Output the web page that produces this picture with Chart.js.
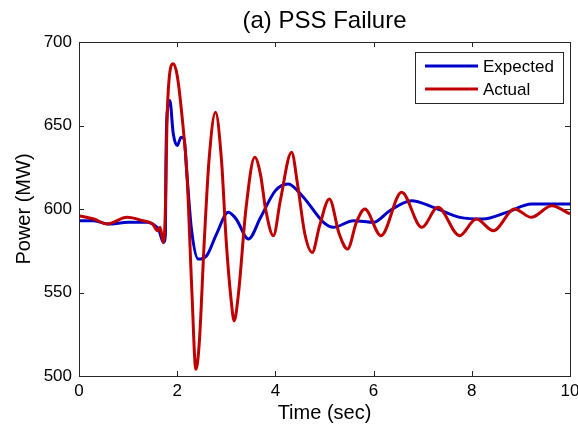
<!DOCTYPE html>
<html>
<head>
<meta charset="utf-8">
<script src="https://cdn.jsdelivr.net/npm/chart.js@4"></script>
<style>
  body { margin: 0; background: #fff; }
  #wrap { width: 578px; height: 425px; }
</style>
</head>
<body>
<div id="wrap"><canvas id="chart" width="578" height="425"></canvas></div>
<script>
// values (time in sec, power in MW)
const expectedT = [0, 0.3, 0.6, 1.0, 1.4, 1.55, 1.62, 1.72, 1.76, 1.77, 1.79, 1.85, 1.92, 2.0, 2.08, 2.14, 2.2, 2.29, 2.43, 2.6, 2.8, 3.04, 3.2, 3.45, 3.7, 4.0, 4.26, 4.57, 4.98, 5.18, 5.59, 6.0, 6.33, 6.77, 7.22, 7.76, 8.23, 8.71, 9.22, 10];
const expectedP = [593, 593, 591, 592, 592, 590, 588, 580, 585, 625, 655, 665, 645, 638, 643, 642, 620, 588, 570, 572, 585, 598, 594, 582, 595, 611, 615, 607, 592, 589, 593, 592, 599, 605, 601, 595, 594, 598, 603, 603];

const actualT = [0, 0.3, 0.57, 0.98, 1.3, 1.5, 1.6, 1.65, 1.72, 1.76, 1.79, 1.83, 1.92, 2.0, 2.1, 2.2, 2.3, 2.38, 2.45, 2.55, 2.65, 2.78, 2.9, 3.0, 3.1, 3.16, 3.25, 3.4, 3.58, 3.7, 3.8, 3.96, 4.1, 4.33, 4.45, 4.6, 4.75, 4.9, 5.1, 5.3, 5.47, 5.65, 5.82, 6.15, 6.57, 6.98, 7.31, 7.75, 8.09, 8.44, 8.87, 9.21, 9.63, 10];
const actualP = [596, 594, 591, 595, 593, 591, 587, 589, 580, 600, 650, 676, 687, 680, 655, 620, 550, 504, 520, 580, 630, 658, 630, 580, 545, 533, 550, 600, 631, 620, 600, 584, 605, 634, 615, 585, 574, 590, 606, 585, 576, 592, 600, 584, 610, 589, 601, 584, 594, 587, 600, 595, 602, 597];

const seriesNames = ["Expected", "Actual"];
const xTicks = [0, 2, 4, 6, 8, 10];
const yTicks = [500, 550, 600, 650, 700];
const chartTitle = "(a) PSS Failure";

const blue = "rgb(0,0,200)";
const red = "rgb(192,0,0)";
const axisColor = "#262626";
const fontFamily = "'Liberation Sans', Arial, sans-serif";

function pts(t, p) {
    return t.map((v, i) => ({ x: v, y: p[i] }));
}

// MATLAB style box, inward ticks, title and legend
const boxPlugin = {
    id: "box",
    afterDatasetsDraw(chart) {
        const ctx = chart.ctx;
        const a = chart.chartArea;
        const xs = chart.scales.x;
        const ys = chart.scales.y;
        ctx.save();
        ctx.strokeStyle = axisColor;
        ctx.lineWidth = 1;
        ctx.strokeRect(a.left + 0.5, a.top + 0.5, a.right - a.left, a.bottom - a.top);
        ctx.beginPath();
        xTicks.forEach(v => {
            const x = Math.round(xs.getPixelForValue(v)) + 0.5;
            ctx.moveTo(x, a.bottom); ctx.lineTo(x, a.bottom - 5);
            ctx.moveTo(x, a.top); ctx.lineTo(x, a.top + 5);
        });
        yTicks.forEach(v => {
            const y = Math.round(ys.getPixelForValue(v)) + 0.5;
            ctx.moveTo(a.left, y); ctx.lineTo(a.left + 5, y);
            ctx.moveTo(a.right, y); ctx.lineTo(a.right - 5, y);
        });
        ctx.stroke();

        // title, centred over the axes
        ctx.fillStyle = "#000";
        ctx.font = "24px " + fontFamily;
        ctx.textAlign = "center";
        ctx.textBaseline = "middle";
        ctx.fillText(chartTitle, (a.left + a.right) / 2, 21);

        // legend
        const lx = 415, ly = 52, lw = 148, lh = 51;
        ctx.fillStyle = "#fff";
        ctx.fillRect(lx, ly, lw, lh);
        ctx.strokeStyle = axisColor;
        ctx.strokeRect(lx + 0.5, ly + 0.5, lw, lh);
        ctx.font = "17px " + fontFamily;
        ctx.textAlign = "left";
        chart.data.datasets.forEach((ds, i) => {
            const y = ly + 14 + i * 23;
            ctx.strokeStyle = ds.borderColor;
            ctx.lineWidth = 3;
            ctx.beginPath();
            ctx.moveTo(425, y); ctx.lineTo(478, y);
            ctx.stroke();
            ctx.fillStyle = "#000";
            ctx.fillText(ds.label, 483, y + 1);
        });
        ctx.restore();
    }
};

new Chart(document.getElementById("chart"), {
    type: "line",
    data: {
        datasets: [{
            label: seriesNames[0],
            data: pts(expectedT, expectedP),
            borderColor: blue,
            borderWidth: 3,
            pointRadius: 0,
            cubicInterpolationMode: "monotone",
            order: 1
        }, {
            label: seriesNames[1],
            data: pts(actualT, actualP),
            borderColor: red,
            borderWidth: 3,
            pointRadius: 0,
            cubicInterpolationMode: "monotone",
            order: 0
        }]
    },
    options: {
        responsive: false,
        animation: false,
        layout: { padding: { left: 0, right: 8, top: 42, bottom: 0 } },
        plugins: {
            legend: { display: false },
            tooltip: { enabled: false },
            title: { display: false }
        },
        scales: {
            x: {
                type: "linear",
                min: 0,
                max: 10,
                afterBuildTicks: s => { s.ticks = xTicks.map(v => ({ value: v })); },
                afterFit: s => { s.height = 49; s.paddingRight = 0; s.paddingLeft = 0; },
                grid: { display: false, drawTicks: false },
                border: { display: false },
                ticks: {
                    color: "#000",
                    padding: 5,
                    maxRotation: 0,
                    font: { family: fontFamily, size: 17 }
                },
                title: {
                    display: true,
                    text: "Time (sec)",
                    color: "#000",
                    font: { family: fontFamily, size: 20 },
                    padding: { top: 0, bottom: 0 }
                }
            },
            y: {
                min: 500,
                max: 700,
                afterBuildTicks: s => { s.ticks = yTicks.map(v => ({ value: v })); },
                afterFit: s => { s.width = 79; s.paddingTop = 0; s.paddingBottom = 0; },
                grid: { display: false, drawTicks: false },
                border: { display: false },
                ticks: {
                    color: "#000",
                    padding: 7,
                    font: { family: fontFamily, size: 17 }
                },
                title: {
                    display: true,
                    text: "Power (MW)",
                    color: "#000",
                    font: { family: fontFamily, size: 20 },
                    padding: { top: 12, bottom: 0 }
                }
            }
        }
    },
    plugins: [boxPlugin]
});
</script>
</body>
</html>
